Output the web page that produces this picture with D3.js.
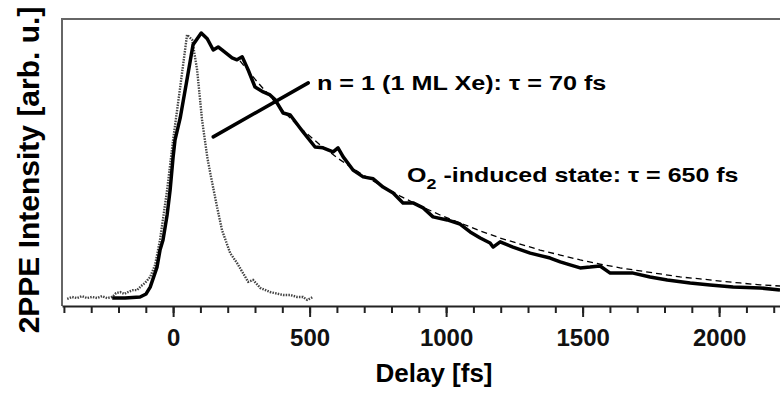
<!DOCTYPE html>
<html lang="en">
<head>
<meta charset="utf-8">
<title>2PPE delay scan</title>
<script src="https://cdn.jsdelivr.net/npm/d3@7/dist/d3.min.js"></script>
<style>
  html, body { margin: 0; padding: 0; background: #fff; }
  svg { display: block; font-family: "Liberation Sans", Arial, sans-serif; }
  .tick text { font-weight: bold; font-size: 24px; fill: #111; }
</style>
</head>
<body>
<script>
// delay [fs] / intensity [arb. u.]

// measured trace, Xe/O2 surface (solid line)
const dataDelay = [-223,-176,-121,-99,-84,-59,-48,-37,-22,-11,0,7,26,48,73,103,125,147,165,179,216,234,253,275,300,330,355,374,403,429,476,520,549,586,604,623,659,696,733,769,806,842,879,916,952,1004,1051,1088,1125,1161,1172,1198,1245,1308,1381,1418,1454,1491,1527,1564,1601,1685,1747,1810,1894,1967,2051,2150,2223];
const dataInt = [0.029,0.029,0.033,0.044,0.069,0.142,0.204,0.241,0.332,0.423,0.544,0.606,0.686,0.81,0.953,0.996,0.975,0.934,0.945,0.934,0.905,0.898,0.909,0.861,0.799,0.781,0.770,0.752,0.704,0.697,0.635,0.580,0.577,0.562,0.577,0.544,0.496,0.471,0.464,0.434,0.412,0.376,0.376,0.358,0.325,0.314,0.299,0.270,0.248,0.230,0.215,0.234,0.215,0.193,0.175,0.161,0.150,0.139,0.142,0.146,0.120,0.120,0.106,0.095,0.084,0.077,0.069,0.066,0.058];

// fit, tau = 650 fs (dashed line)
const fitDelay = [245,308,392,465,538,612,685,758,832,905,978,1051,1125,1198,1271,1344,1418,1491,1564,1637,1711,1784,1857,1930,2004,2077,2150,2223];
const fitInt = [0.894,0.818,0.723,0.650,0.588,0.533,0.485,0.442,0.401,0.365,0.332,0.303,0.274,0.248,0.226,0.204,0.186,0.168,0.153,0.139,0.128,0.117,0.106,0.099,0.091,0.084,0.077,0.073];

// cross correlation (dotted line)
const xcDelay = [-388,-370,-352,-333,-315,-297,-278,-260,-242,-223,-209,-194,-179,-165,-147,-132,-117,-103,-84,-66,-48,-22,0,26,51,70,88,106,125,136,161,179,209,234,256,275,293,319,355,403,429,454,476,491,513];
const xcInt = [0.026,0.033,0.029,0.036,0.029,0.033,0.029,0.036,0.029,0.033,0.047,0.051,0.044,0.051,0.058,0.058,0.073,0.084,0.106,0.150,0.241,0.423,0.606,0.799,0.989,0.971,0.861,0.679,0.544,0.485,0.361,0.277,0.193,0.157,0.120,0.088,0.095,0.066,0.051,0.040,0.040,0.033,0.033,0.022,0.033];

const majorTicks = [0, 500, 1000, 1500, 2000];
const minorTicks = d3.range(-400, 2201, 100);

const w = 780, h = 394;
const padL = 62, padR = 780, padT = 19, padB = 306;

const svg = d3.select("body").append("svg")
    .attr("width", w)
    .attr("height", h);

const xScale = d3.scaleLinear().domain([-407, 2223]).range([padL, padR]);
const yScale = d3.scaleLinear().domain([0, 1.047]).range([padB, padT]);

// frame: top and left edges
svg.append("path")
    .attr("d", `M${padL},${padB} V${padT} H${padR}`)
    .attr("fill", "none")
    .attr("stroke", "#666")
    .attr("stroke-width", 2);

// minor ticks
svg.append("g")
    .attr("transform", `translate(0,${padB})`)
    .call(d3.axisBottom(xScale).tickValues(minorTicks).tickSize(7).tickFormat(""))
    .call(g => g.select(".domain").remove())
    .call(g => g.selectAll(".tick line").attr("stroke", "#222").attr("stroke-width", 2));

// major ticks + labels
svg.append("g")
    .attr("transform", `translate(0,${padB})`)
    .call(d3.axisBottom(xScale).tickValues(majorTicks).tickFormat(d3.format("d"))
        .tickSize(11).tickSizeOuter(0).tickPadding(12))
    .call(g => g.select(".domain").attr("stroke", "#222").attr("stroke-width", 2))
    .call(g => g.selectAll(".tick line").attr("stroke", "#222").attr("stroke-width", 2))
    .call(g => g.attr("font-family", null).attr("font-size", null));

const line = (xs, ys) => d3.line()
    .x(i => xScale(xs[i]))
    .y(i => yScale(ys[i]))(d3.range(xs.length));

// cross correlation
svg.append("path")
    .attr("d", line(xcDelay, xcInt))
    .attr("fill", "none")
    .attr("stroke", "#444")
    .attr("stroke-width", 2.4)
    .attr("stroke-dasharray", "1.5,1.2");

// data
svg.append("path")
    .attr("d", line(dataDelay, dataInt))
    .attr("fill", "none")
    .attr("stroke", "#000")
    .attr("stroke-width", 3.5)
    .attr("stroke-linejoin", "round");

// fit
svg.append("path")
    .attr("d", line(fitDelay, fitInt))
    .attr("fill", "none")
    .attr("stroke", "#000")
    .attr("stroke-width", 1.3)
    .attr("stroke-dasharray", "6,4");

// pointer for the n = 1 label
svg.append("line")
    .attr("x1", xScale(147)).attr("y1", yScale(0.617))
    .attr("x2", xScale(495)).attr("y2", yScale(0.814))
    .attr("stroke", "#000")
    .attr("stroke-width", 3.5)
    .attr("stroke-linecap", "round");

// labels (glyphs in the original are a bit wider than Arial)
svg.append("g")
    .attr("transform", `translate(${xScale(527)},${yScale(0.788)}) scale(1.2,1)`)
  .append("text")
    .attr("font-size", 21).attr("font-weight", "bold")
    .text("n = 1 (1 ML Xe): τ = 70 fs");

const o2 = svg.append("g")
    .attr("transform", `translate(${xScale(857)},${yScale(0.453)}) scale(1.19,1)`)
  .append("text")
    .attr("font-size", 21).attr("font-weight", "bold");
o2.append("tspan").text("O");
o2.append("tspan").attr("font-size", 15).attr("dy", 7).text("2");
o2.append("tspan").attr("dy", -7).text(" -induced state: τ = 650 fs");

svg.append("text")
    .attr("x", (padL + padR) / 2 + 13).attr("y", 382)
    .attr("text-anchor", "middle")
    .attr("font-size", 26).attr("font-weight", "bold")
    .text("Delay [fs]");

svg.append("text")
    .attr("transform", "translate(39,170) rotate(-90)")
    .attr("text-anchor", "middle")
    .attr("font-size", 30).attr("font-weight", "bold")
    .text("2PPE Intensity [arb. u.]");
</script>
</body>
</html>
